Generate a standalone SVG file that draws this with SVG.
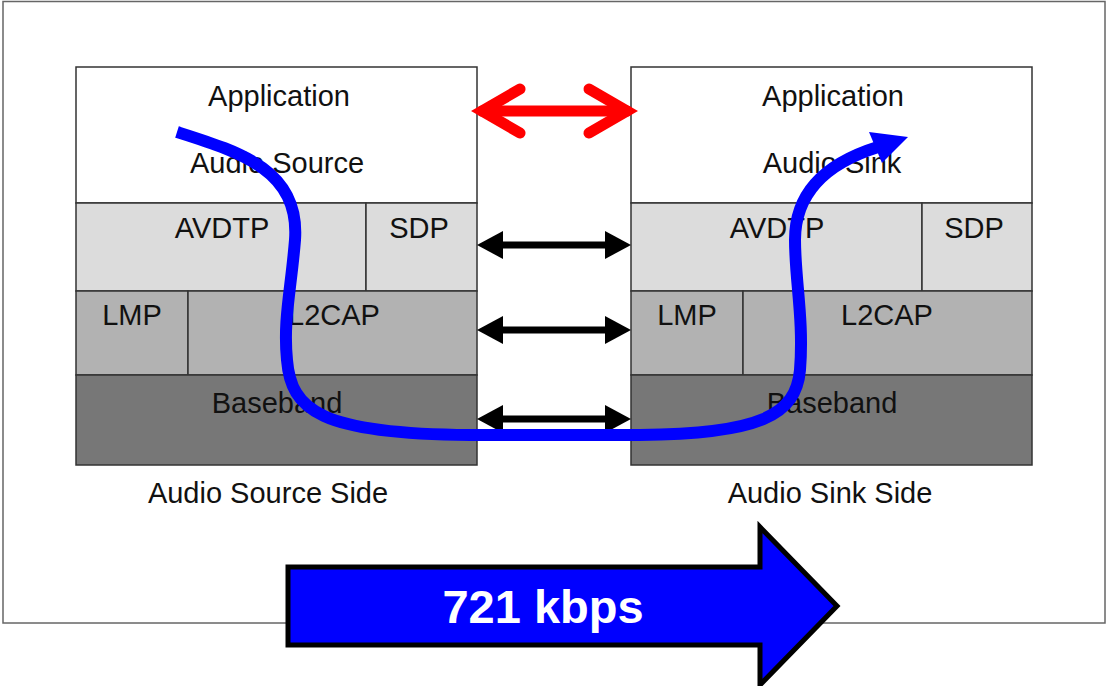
<svg xmlns="http://www.w3.org/2000/svg" width="1107" height="686" viewBox="0 0 1107 686">
<style>
.t{font-family:"Liberation Sans",Arial,sans-serif;font-size:29px;fill:#111;text-anchor:middle}
.box{stroke:#333;stroke-width:1.5}
.app{fill:#fff}.l1{fill:#dcdcdc}.l2{fill:#b2b2b2}.l3{fill:#777}
.blk{stroke:#000;stroke-width:7;fill:none}
.red{stroke:#f00;stroke-width:11;fill:none;stroke-linecap:round;stroke-linejoin:miter;stroke-miterlimit:10}
</style>
<defs>
<marker id="ah" viewBox="0 0 26 28" refX="13" refY="14" markerWidth="26" markerHeight="28" markerUnits="userSpaceOnUse" orient="auto-start-reverse">
<path d="M0,0 L26,14 L0,28 z" fill="#000"/>
</marker>
</defs>
<rect x="3" y="1.5" width="1102" height="621.5" fill="#fff" stroke="#666" stroke-width="1.5"/>

<g id="src-app"><rect class="box app" x="76" y="67" width="401" height="136"/><text class="t" x="279" y="106">Application</text><text class="t" x="277" y="173">Audio Source</text></g>
<g id="src-avdtp"><rect class="box l1" x="76" y="203" width="290" height="88"/><text class="t" x="222" y="238">AVDTP</text></g>
<g id="src-sdp"><rect class="box l1" x="366" y="203" width="111" height="88"/><text class="t" x="419" y="238">SDP</text></g>
<g id="src-lmp"><rect class="box l2" x="76" y="291" width="112" height="84"/><text class="t" x="132" y="325">LMP</text></g>
<g id="src-l2cap"><rect class="box l2" x="188" y="291" width="289" height="84"/><text class="t" x="334" y="325">L2CAP</text></g>
<g id="src-bb"><rect class="box l3" x="76" y="375" width="401" height="90"/><text class="t" x="277" y="413">Baseband</text></g>
<g id="src-label"><text class="t" x="268" y="503">Audio Source Side</text></g>

<g id="snk-app"><rect class="box app" x="631" y="67" width="401" height="136"/><text class="t" x="833" y="106">Application</text><text class="t" x="832" y="173">Audio Sink</text></g>
<g id="snk-avdtp"><rect class="box l1" x="631" y="203" width="291" height="88"/><text class="t" x="777" y="238">AVDTP</text></g>
<g id="snk-sdp"><rect class="box l1" x="922" y="203" width="110" height="88"/><text class="t" x="974" y="238">SDP</text></g>
<g id="snk-lmp"><rect class="box l2" x="631" y="291" width="112" height="84"/><text class="t" x="687" y="325">LMP</text></g>
<g id="snk-l2cap"><rect class="box l2" x="743" y="291" width="289" height="84"/><text class="t" x="887" y="325">L2CAP</text></g>
<g id="snk-bb"><rect class="box l3" x="631" y="375" width="401" height="90"/><text class="t" x="832" y="413">Baseband</text></g>
<g id="snk-label"><text class="t" x="830" y="503">Audio Sink Side</text></g>

<g id="connectors">
<line class="red" x1="482" y1="111" x2="627" y2="111"/>
<polyline class="red" points="520,89 482,111 520,133"/>
<polyline class="red" points="589,89 627,111 589,133"/>
<line class="blk" x1="490" y1="245" x2="618" y2="245" marker-start="url(#ah)" marker-end="url(#ah)"/>
<line class="blk" x1="490" y1="330" x2="618" y2="330" marker-start="url(#ah)" marker-end="url(#ah)"/>
<line class="blk" x1="490" y1="419" x2="618" y2="419" marker-start="url(#ah)" marker-end="url(#ah)"/>
<path d="M177,132 C240,152 300,170 295,240 C291,290 283,320 287,360 C291,410 320,434 470,435 L640,435 C760,434 796,415 800,370 C804,320 795,280 795,240 C795,190 830,162 878,147" fill="none" stroke="#0000ff" stroke-width="12"/>
<polygon points="908,137 869,132 882,163" fill="#0000ff"/>
</g>

<g id="rate">
<polygon points="288,567 760,567 760,527 837,606 760,685 760,645 288,645" fill="#0000ff" stroke="#000" stroke-width="5"/>
<text x="543" y="623" font-family="Liberation Sans,Arial,sans-serif" font-size="47" font-weight="bold" fill="#fff" text-anchor="middle">721 kbps</text>
</g>
</svg>
